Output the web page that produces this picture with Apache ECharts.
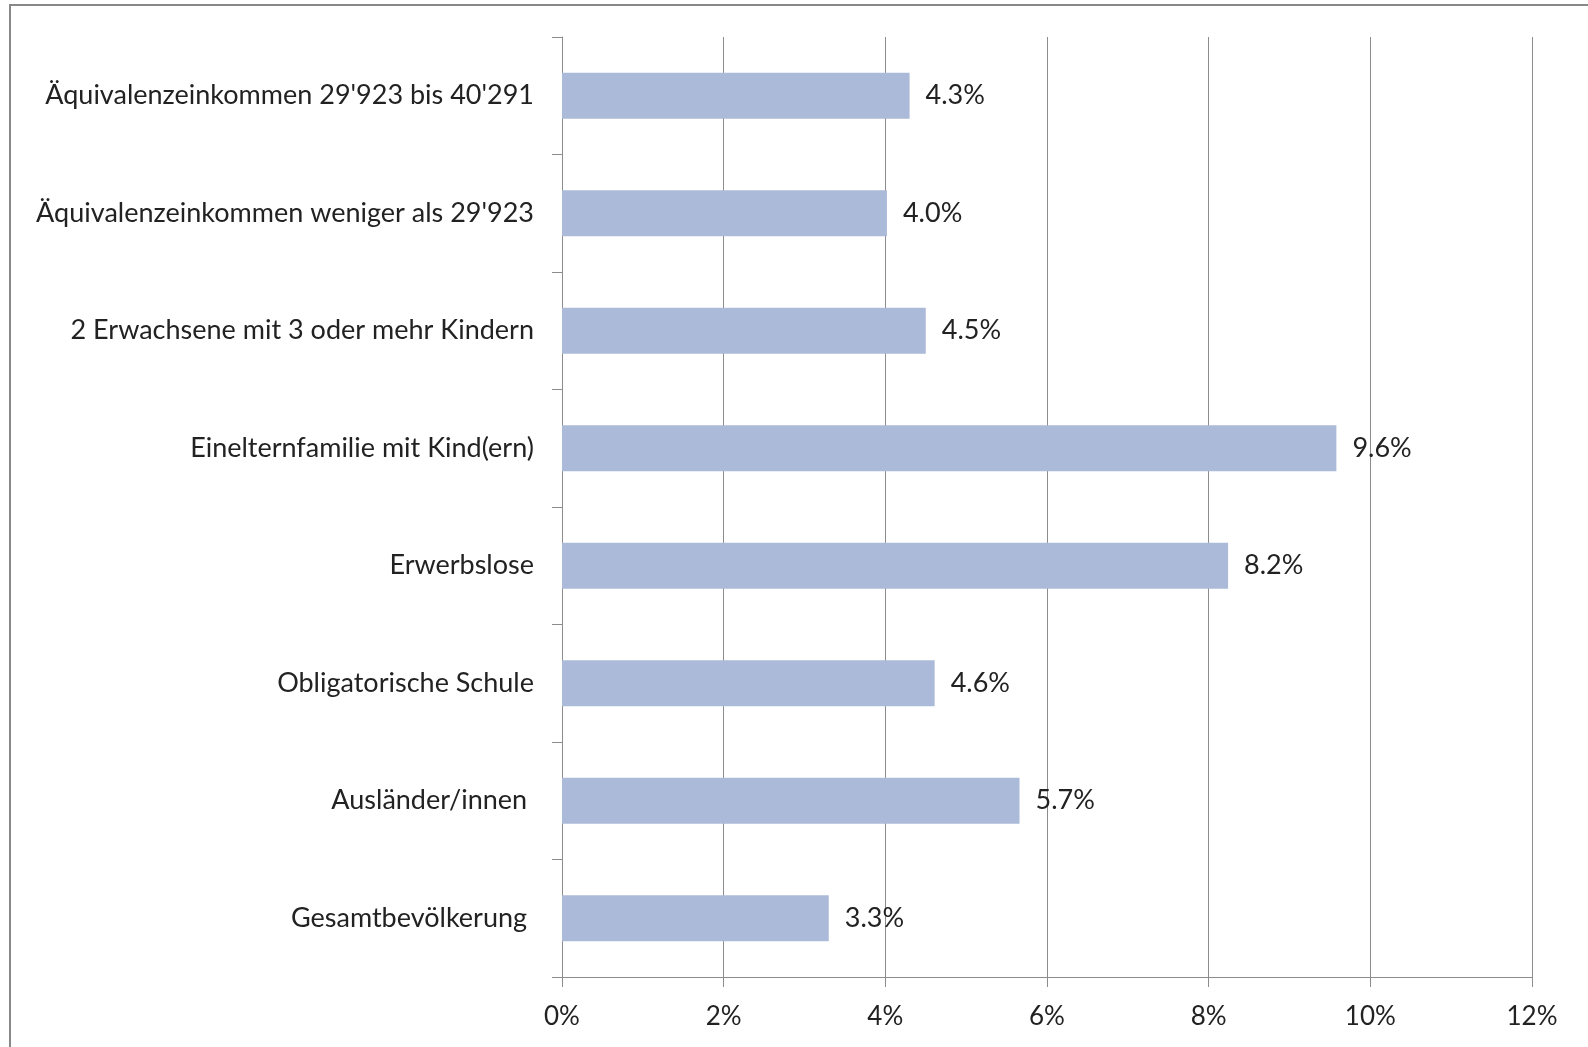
<!DOCTYPE html>
<html>
<head>
<meta charset="utf-8">
<script src="https://cdn.jsdelivr.net/npm/echarts@6/dist/echarts.min.js"></script>
<style>
  html, body { margin: 0; padding: 0; background: #fff; }
  #main { width: 1588px; height: 1047px; }
</style>
</head>
<body>
<div id="main"></div>
<script>
var categories = [
  "Äquivalenzeinkommen 29'923 bis 40'291",
  "Äquivalenzeinkommen weniger als 29'923",
  '2 Erwachsene mit 3 oder mehr Kindern',
  'Einelternfamilie mit Kind(ern)',
  'Erwerbslose',
  'Obligatorische Schule',
  'Ausländer/innen ',
  'Gesamtbevölkerung '
]
var values = [4.3, 4.02, 4.5, 9.58, 8.24, 4.61, 5.66, 3.3]
var labels = ['4.3%', '4.0%', '4.5%', '9.6%', '8.2%', '4.6%', '5.7%', '3.3%']
var xTicks = [0, 2, 4, 6, 8, 10, 12]

var font = 'Lato'
var axisGray = '#8c8c8c'

var myChart = echarts.init(document.getElementById('main'))

var option = {
  animation: false,
  grid: {
    left: 562,
    right: 56,
    top: 37,
    bottom: 70
  },
  graphic: [{
    type: 'rect',
    shape: { x: 10, y: 5, width: 1600, height: 1100 },
    style: { fill: 'none', stroke: '#888', lineWidth: 2 },
    silent: true
  }],
  xAxis: {
    type: 'value',
    min: 0,
    max: 12,
    interval: 2,
    axisLine: { show: true, lineStyle: { color: axisGray, width: 1 } },
    axisTick: { show: true, length: 10, lineStyle: { color: axisGray } },
    splitLine: { show: true, lineStyle: { color: axisGray, width: 1 } },
    axisLabel: {
      margin: 27,
      fontFamily: font,
      fontSize: 26,
      color: '#222',
      formatter: function (v) {
        return xTicks.indexOf(v) >= 0 ? v + '%' : ''
      }
    }
  },
  yAxis: {
    type: 'category',
    inverse: true,
    data: categories,
    axisLine: { show: true, lineStyle: { color: axisGray, width: 1 } },
    axisTick: { show: true, length: 10, lineStyle: { color: axisGray } },
    axisLabel: {
      margin: 28,
      fontFamily: font,
      fontSize: 27,
      color: '#222',
      padding: [12, 0, 0, 0]
    }
  },
  series: [{
    type: 'bar',
    data: values,
    barWidth: 46,
    itemStyle: { color: '#abbad8' },
    label: {
      show: true,
      position: 'right',
      distance: 16,
      fontFamily: font,
      fontSize: 27,
      color: '#222',
      padding: [12, 0, 0, 0],
      formatter: function (p) {
        return labels[p.dataIndex]
      }
    }
  }]
}

myChart.setOption(option)
</script>
</body>
</html>
